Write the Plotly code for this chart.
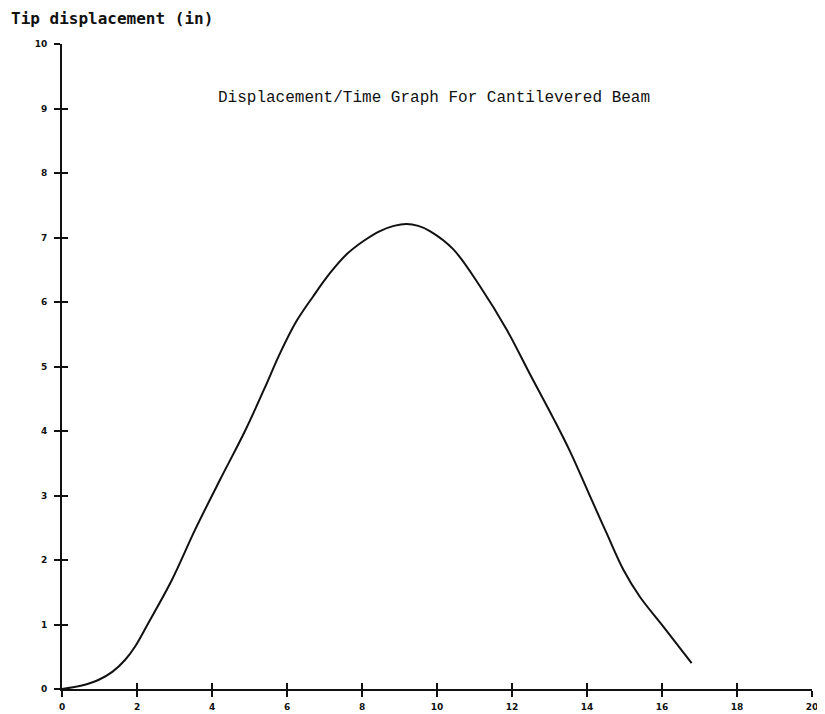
import plotly.graph_objects as go

# Courbe (temps, déplacement de la pointe)
time_vals = [0.0, 0.5, 0.97, 1.35, 1.68, 1.95, 2.30, 2.93, 3.55, 4.21, 4.88,
             5.40, 5.81, 6.25, 6.70, 7.15, 7.59, 8.05, 8.48, 8.85, 9.19,
             9.50, 9.81, 10.43, 11.15, 11.86, 12.48, 13.10, 13.55, 14.08,
             14.52, 14.97, 15.41, 16.03, 16.79]
disp_vals = [0.0, 0.05, 0.14, 0.27, 0.45, 0.66, 1.02, 1.69, 2.47, 3.24, 4.0,
             4.66, 5.20, 5.70, 6.09, 6.45, 6.74, 6.95, 7.10, 7.18, 7.21,
             7.18, 7.10, 6.82, 6.24, 5.57, 4.88, 4.20, 3.68, 2.99,
             2.42, 1.85, 1.43, 0.97, 0.40]

x_ticks = list(range(0, 21, 2))
y_ticks = list(range(0, 11))

title_text = "Displacement/Time Graph For Cantilevered Beam"
y_title = "Tip displacement (in)"

ink = "#111111"
tick_font = dict(family="DejaVu Sans", size=9, color=ink, weight="bold")

fig = go.Figure()
fig.add_trace(go.Scatter(x=time_vals, y=disp_vals, mode="lines",
                         line=dict(color=ink, width=2, shape="spline", smoothing=1.0),
                         showlegend=False, hoverinfo="skip"))
# trace fantôme pour activer les axes secondaires (ticks vers l'intérieur)
fig.add_trace(go.Scatter(x=[0], y=[0], xaxis="x2", yaxis="y2", mode="markers",
                         marker=dict(opacity=0), showlegend=False, hoverinfo="skip"))

axis_common = dict(showgrid=False, zeroline=False, showline=True,
                   linecolor=ink, linewidth=2, tickcolor=ink, tickwidth=1.5,
                   ticklen=6, automargin=False)

# la page html a une marge de 8px sur le body -> on compense
fig.update_layout(
    width=817, height=706,
    margin=dict(l=54, r=13, t=36, b=25),
    paper_bgcolor="white", plot_bgcolor="white",
    xaxis=dict(range=[0, 20], tickvals=x_ticks, ticks="outside",
               tickfont=tick_font, ticklabelstandoff=2, **axis_common),
    yaxis=dict(range=[0, 10], tickvals=y_ticks, ticks="outside",
               tickfont=tick_font, ticklabelstandoff=5, **axis_common),
    xaxis2=dict(range=[0, 20], tickvals=x_ticks, ticks="inside",
                showticklabels=False, overlaying="x", side="bottom",
                **axis_common),
    yaxis2=dict(range=[0, 10], tickvals=y_ticks, ticks="inside",
                showticklabels=False, overlaying="y", side="left",
                **axis_common),
    annotations=[
        dict(text=title_text, xref="paper", yref="paper", x=0.496, y=0.917,
             xanchor="center", yanchor="middle", showarrow=False,
             font=dict(family="Liberation Mono", size=16, color=ink)),
        dict(text=y_title, xref="paper", yref="paper", x=-0.071, y=1.04,
             xanchor="left", yanchor="middle", showarrow=False,
             font=dict(family="DejaVu Sans Mono", size=16, color=ink,
                       weight="bold")),
    ],
)

fig.write_html("out.html")
